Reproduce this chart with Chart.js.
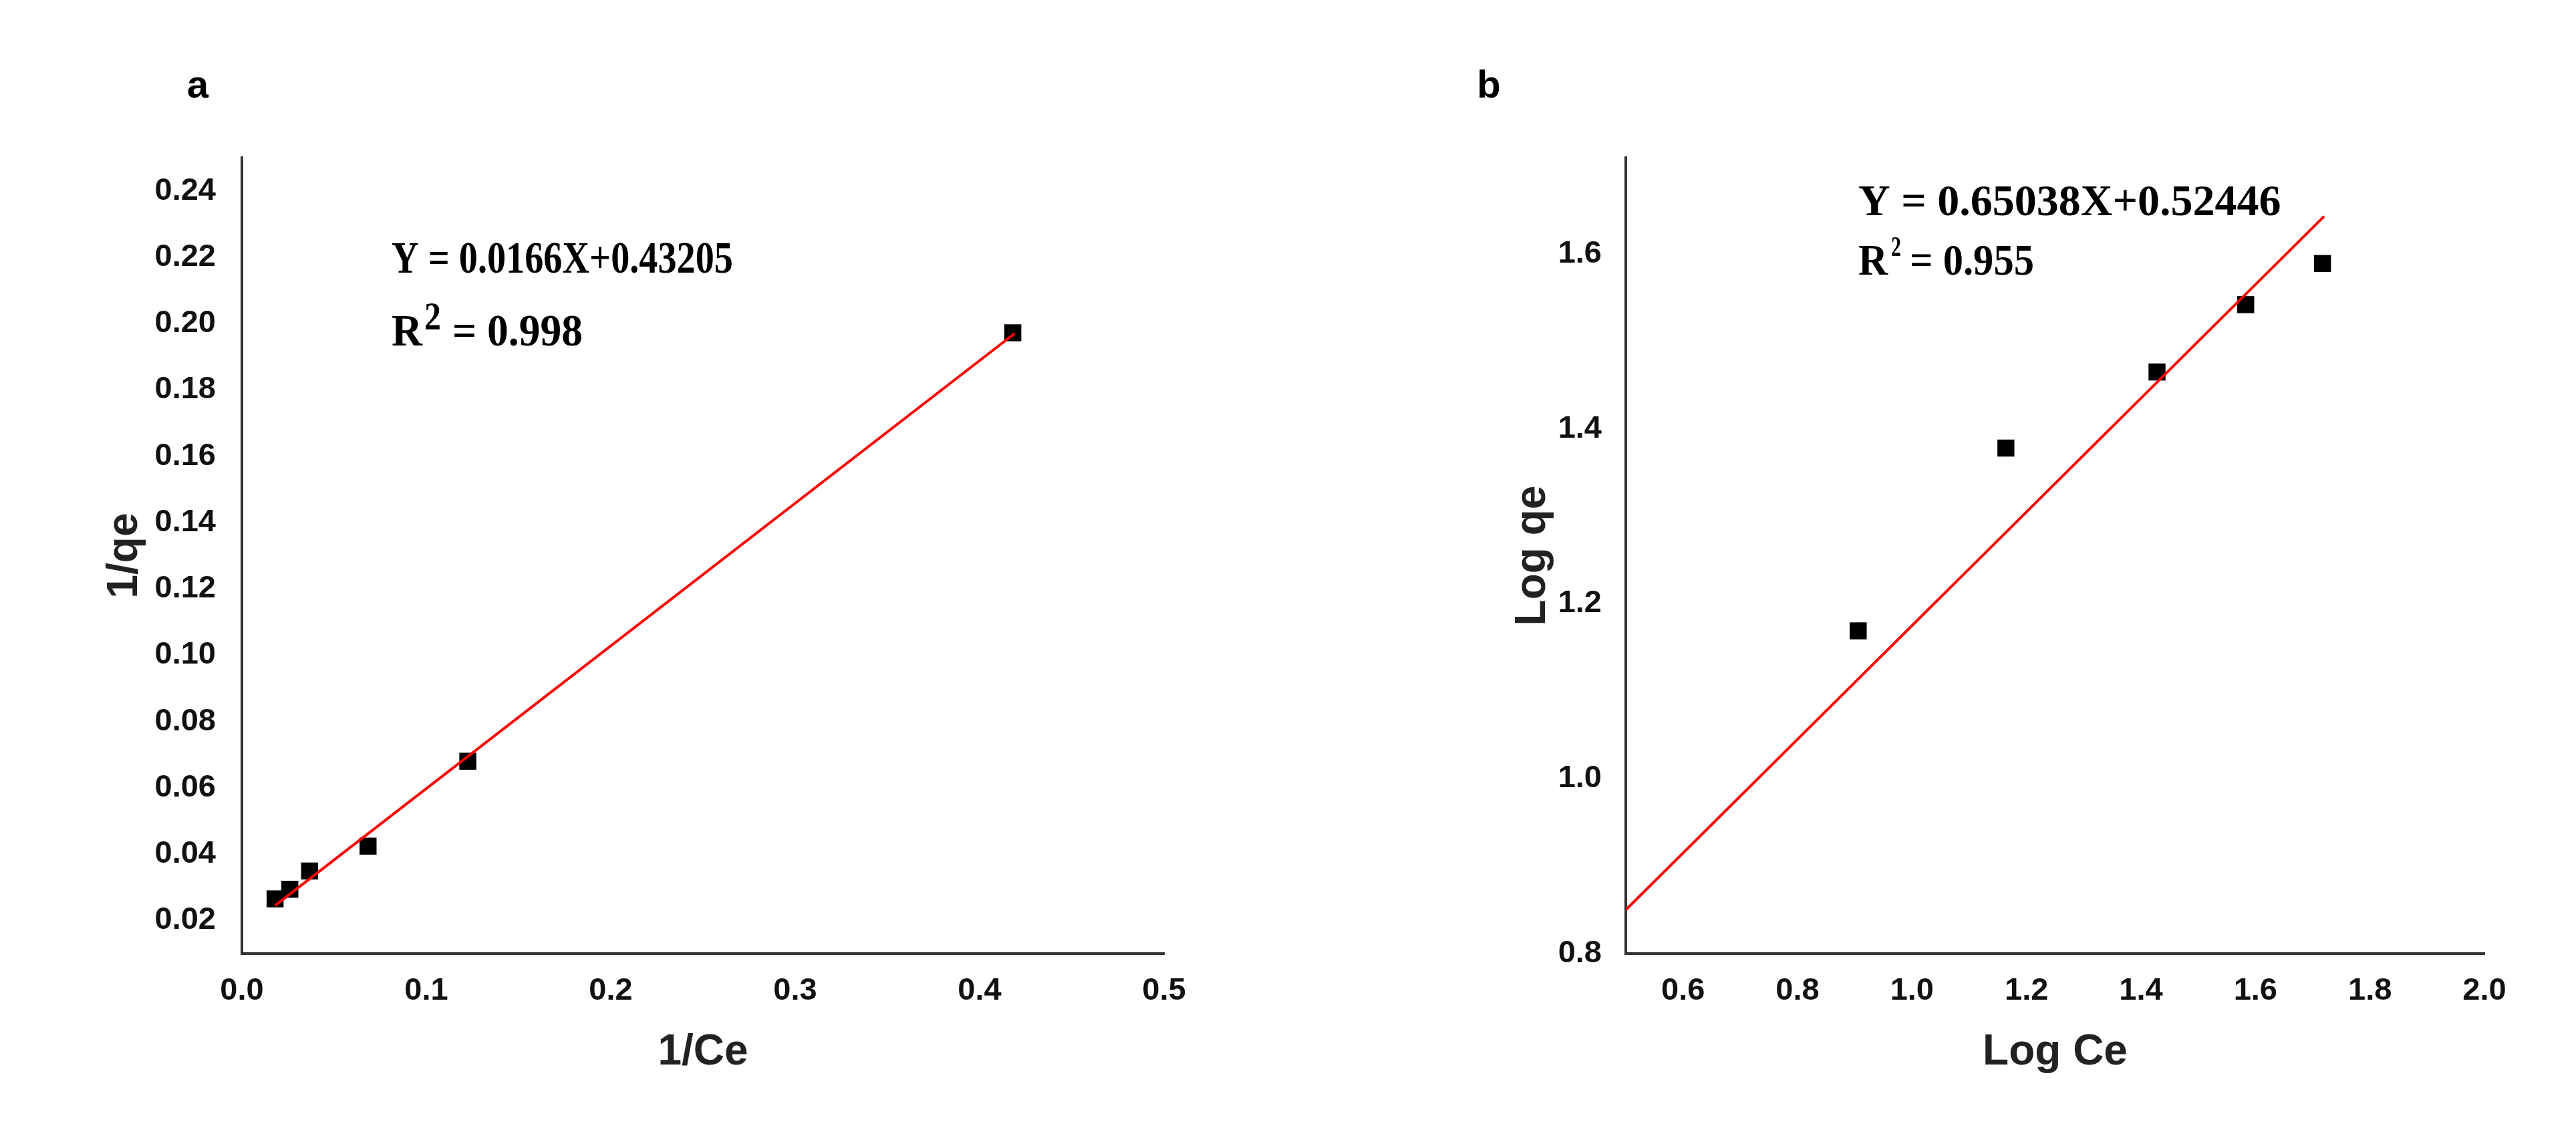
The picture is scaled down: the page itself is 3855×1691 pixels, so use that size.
<!DOCTYPE html>
<html>
<head>
<meta charset="utf-8">
<title>Isotherm fits</title>
<script src="https://cdn.jsdelivr.net/npm/chart.js@4.4.1/dist/chart.umd.min.js"></script>
<style>
  html, body { margin: 0; padding: 0; background: #fff; }
  #wrap { position: relative; width: 3855px; height: 1691px; overflow: hidden; }
  canvas { position: absolute; top: 0; }
  #chartA { left: 0; }
  #chartB { left: 1900px; }
</style>
</head>
<body>
<div id="wrap">
  <canvas id="chartA" width="1900" height="1691"></canvas>
  <canvas id="chartB" width="1955" height="1691"></canvas>
</div>
<script>
// panel a: 1/Ce vs 1/qe
const invCe = [0.018, 0.026, 0.0367, 0.0684, 0.1225, 0.418];
const invQe = [0.0265, 0.0294, 0.0349, 0.0424, 0.068, 0.1972];
const fitAX = [0.018, 0.419];
const fitAY = [0.0245, 0.197];
const xTicksA = [0, 0.1, 0.2, 0.3, 0.4, 0.5];
const yTicksA = [0.02, 0.04, 0.06, 0.08, 0.10, 0.12, 0.14, 0.16, 0.18, 0.20, 0.22, 0.24];

// panel b: Log Ce vs Log qe
const logCe = [0.906, 1.164, 1.428, 1.583, 1.717];
const logQe = [1.169, 1.378, 1.465, 1.542, 1.589];
const fitBX = [0.5, 1.72];
const fitBY = [0.850, 1.643];
const xTicksB = [0.6, 0.8, 1.0, 1.2, 1.4, 1.6, 1.8, 2.0];
const yTicksB = [0.8, 1.0, 1.2, 1.4, 1.6];

const SANS = '"Liberation Sans", Arial, sans-serif';
const SERIF = '"Liberation Serif", "Times New Roman", serif';

// plain text drawn on top (panel letter, equation, R²)
const annotate = {
  id: 'annotate',
  afterDraw(chart, args, opts) {
    const ctx = chart.ctx;
    ctx.save();
    ctx.fillStyle = '#000';
    ctx.textBaseline = 'alphabetic';
    for (const t of opts.items) {
      ctx.font = t.font;
      ctx.textAlign = t.align || 'left';
      if (t.maxWidth) ctx.fillText(t.text, t.x, t.y, t.maxWidth);
      else ctx.fillText(t.text, t.x, t.y);
    }
    ctx.restore();
  }
};

function pairs(xs, ys) {
  return xs.map((x, i) => ({ x: x, y: ys[i] }));
}

function makeChart(id, cfg) {
  const tickFont = { family: SANS, size: 47, weight: 'bold' };
  const titleFont = { family: SANS, size: 64, weight: 'bold' };
  return new Chart(document.getElementById(id), {
    type: 'scatter',
    data: {
      datasets: [
        {
          type: 'line',
          data: pairs(cfg.fitX, cfg.fitY),
          borderColor: '#ff0000',
          borderWidth: 4,
          pointRadius: 0,
          fill: false
        },
        {
          data: pairs(cfg.xs, cfg.ys),
          pointStyle: 'rect',
          pointRadius: 18,
          backgroundColor: '#000',
          borderWidth: 0
        }
      ]
    },
    options: {
      responsive: false,
      animation: false,
      devicePixelRatio: 1,
      layout: { padding: cfg.padding },
      plugins: {
        legend: { display: false },
        tooltip: { enabled: false },
        annotate: { items: cfg.text }
      },
      scales: {
        x: {
          type: 'linear',
          min: cfg.xMin,
          max: cfg.xMax,
          afterBuildTicks: s => { s.ticks = cfg.xTicks.map(v => ({ value: v })); },
          afterFit: s => { s.height = cfg.xHeight; },
          grid: { display: false, drawTicks: false },
          border: { display: true, color: '#333', width: 4 },
          ticks: {
            autoSkip: false,
            maxRotation: 0,
            padding: 28,
            color: '#111',
            font: tickFont,
            callback: v => v.toFixed(1)
          },
          title: {
            display: true,
            text: cfg.xTitle,
            color: '#222',
            font: titleFont,
            padding: { top: 0, bottom: 77 }
          }
        },
        y: {
          type: 'linear',
          min: cfg.yMin,
          max: cfg.yMax,
          afterBuildTicks: s => { s.ticks = cfg.yTicks.map(v => ({ value: v })); },
          afterFit: s => { s.width = cfg.yWidth; },
          grid: { display: false, drawTicks: false },
          border: { display: true, color: '#333', width: 4 },
          ticks: {
            autoSkip: false,
            padding: cfg.yPad,
            color: '#111',
            font: tickFont,
            callback: v => v.toFixed(cfg.yDigits)
          },
          title: {
            display: true,
            text: cfg.yTitle,
            color: '#222',
            font: titleFont,
            padding: { top: cfg.yTitlePad, bottom: 0 }
          }
        }
      }
    },
    plugins: [annotate]
  });
}

makeChart('chartA', {
  xs: invCe, ys: invQe, fitX: fitAX, fitY: fitAY,
  xMin: 0, xMax: 0.5, yMin: 0.01, yMax: 0.25,
  xTicks: xTicksA, yTicks: yTicksA, yDigits: 2,
  xTitle: '1/Ce', yTitle: '1/qe',
  padding: { top: 236, right: 158, left: 0, bottom: 0 },
  yWidth: 362, xHeight: 264, yPad: 39, yTitlePad: 149,
  text: [
    { text: 'a', x: 296, y: 146, font: 'bold 58px ' + SANS, align: 'center' },
    { text: 'Y = 0.0166X+0.43205', x: 586, y: 408, font: 'bold 68px ' + SERIF, maxWidth: 511 },
    { text: 'R', x: 586, y: 517, font: 'bold 68px ' + SERIF, maxWidth: 46 },
    { text: '2', x: 635, y: 493, font: 'bold 60px ' + SERIF, maxWidth: 25 },
    { text: '= 0.998', x: 677, y: 517, font: 'bold 68px ' + SERIF, maxWidth: 195 }
  ]
});

makeChart('chartB', {
  xs: logCe, ys: logQe, fitX: fitBX, fitY: fitBY,
  xMin: 0.5, xMax: 2.0, yMin: 0.8, yMax: 1.71,
  xTicks: xTicksB, yTicks: yTicksB, yDigits: 1,
  xTitle: 'Log Ce', yTitle: 'Log qe',
  padding: { top: 236, right: 137, left: 0, bottom: 0 },
  yWidth: 533, xHeight: 264, yPad: 36, yTitlePad: 356,
  text: [
    { text: 'b', x: 328, y: 146, font: 'bold 58px ' + SANS, align: 'center' },
    { text: 'Y = 0.65038X+0.52446', x: 881, y: 322, font: 'bold 66px ' + SERIF, maxWidth: 636 },
    { text: 'R', x: 881, y: 411, font: 'bold 66px ' + SERIF, maxWidth: 44 },
    { text: '2', x: 930, y: 383, font: 'bold 43px ' + SERIF, maxWidth: 15 },
    { text: '= 0.955', x: 958, y: 411, font: 'bold 66px ' + SERIF, maxWidth: 186 }
  ]
});
</script>
</body>
</html>
